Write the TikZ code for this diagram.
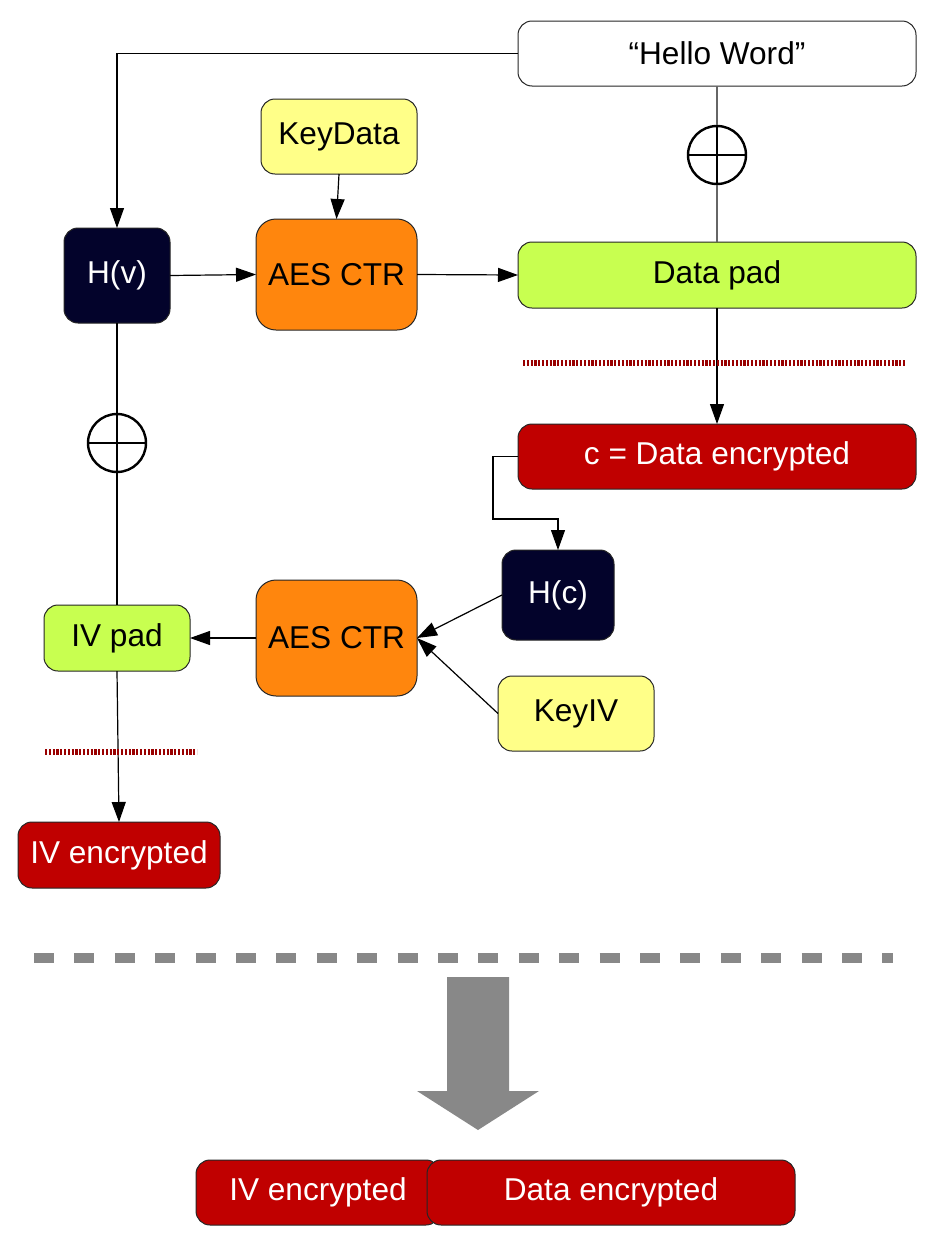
\documentclass[tikz,border=0pt]{standalone}
\usepackage{fontspec}
\setmainfont{Liberation Sans}
\usetikzlibrary{arrows.meta,positioning}
\definecolor{hashnavy}{HTML}{03032B}
\definecolor{aesorange}{HTML}{FF860D}
\definecolor{keyyellow}{HTML}{FFFF88}
\definecolor{padgreen}{HTML}{C8FF50}
\definecolor{encred}{HTML}{C00000}
\definecolor{cutred}{HTML}{990000}
\definecolor{flowgray}{HTML}{888888}

\begin{document}
\begin{tikzpicture}[
  x=0.5pt, y=-0.5pt,
  every node/.style={font=\fontsize{15.8}{19}\selectfont},
  box/.style={draw=black!85, line width=0.5pt, rounded corners=7pt, inner sep=0pt, outer sep=0pt, align=center},
  msgbox/.style={box, fill=white, minimum width=199pt, minimum height=32.5pt},
  hashbox/.style={box, fill=hashnavy, text=white},
  aesbox/.style={box, fill=aesorange, rounded corners=10pt, minimum width=80.5pt},
  keybox/.style={box, fill=keyyellow, minimum width=78pt, minimum height=37.5pt},
  padbox/.style={box, fill=padgreen, minimum height=33pt},
  encbox/.style={box, fill=encred, text=white, minimum height=32.5pt},
  xorsym/.style={draw, circle, line width=1.2pt, minimum size=29pt, inner sep=0pt,
    path picture={\draw[line width=1.2pt] (path picture bounding box.north) -- (path picture bounding box.south)
      (path picture bounding box.west) -- (path picture bounding box.east);}},
  arr/.style={-{Triangle[length=10pt,width=7pt]}, line width=0.6pt},
  link/.style={line width=0.6pt},
  cutline/.style={draw=cutred, line width=2.6pt, dash pattern=on 1.1pt off 0.8pt}
]
\useasboundingbox (0,0) rectangle (938,1253);

% data branch
\node[msgbox] (hello) at (717,53.5) {“Hello Word”};
\node[xorsym] (xorD) at (717,155) {};
\node[padbox, minimum width=199pt] (datapad) at (717,275) {Data pad};
\node[encbox, minimum width=199pt] (cenc) at (717,456.5) {c = Data encrypted};

% first AES
\node[keybox] (keydata) at (339,136.5) {KeyData};
\node[hashbox, minimum width=53pt, minimum height=47.5pt] (hv) at (117,275.5) {H(v)};
\node[aesbox, minimum height=55.5pt] (aesA) at (336.5,274.5) {AES CTR};

% IV branch
\node[xorsym] (xorI) at (117,443) {};
\node[hashbox, minimum width=56pt, minimum height=45pt] (hc) at (558,595) {H(c)};
\node[aesbox, minimum height=58pt] (aesB) at (336.5,638) {AES CTR};
\node[keybox] (keyiv) at (576,713.5) {KeyIV};
\node[padbox, minimum width=73pt] (ivpad) at (117,638) {IV pad};
\node[encbox, minimum width=101pt, minimum height=33pt] (ivenc) at (119,855) {IV encrypted};

\draw[arr] (hello.west) -| (hv.north);
\draw[link, black!60] (hello.south) -- (xorD.north);
\draw[link, black!60] (xorD.south) -- (datapad.north);
\draw[arr] (keydata.south) -- (aesA.north);
\draw[arr] (hv.east) -- (aesA.west);
\draw[arr] (aesA.east) -- (datapad.west);
\draw[arr] (datapad.south) -- (cenc.north);
\coordinate (bend) at (493,519);
\draw[arr] (cenc.west) -| (bend) -| (hc.north);
\draw[arr] (hc.west) -- (aesB.east);
\draw[arr] (keyiv.west) -- (aesB.east);
\draw[arr] (aesB.west) -- (ivpad.east);
\draw[link] (hv.south) -- (xorI.north);
\draw[link] (xorI.south) -- (ivpad.north);
\draw[arr] (ivpad.south) -- (ivenc.north);

% cut marks
\draw[cutline] (523,363) -- (906,363);
\draw[cutline] (45,752) -- (197,752);

% result
\draw[flowgray, line width=5pt, dash pattern=on 10pt off 10.2pt] (34,958) -- (893,958);
\fill[flowgray] (447,977) -- (509,977) -- (509,1091) -- (539,1091) -- (478,1130)
  -- (417,1091) -- (447,1091) -- cycle;
\node[encbox, minimum width=122pt] (ivencB) at (318,1192.5) {IV encrypted};
\node[encbox, minimum width=184pt] (dataencB) at (611,1192.5) {Data encrypted};
\end{tikzpicture}
\end{document}
